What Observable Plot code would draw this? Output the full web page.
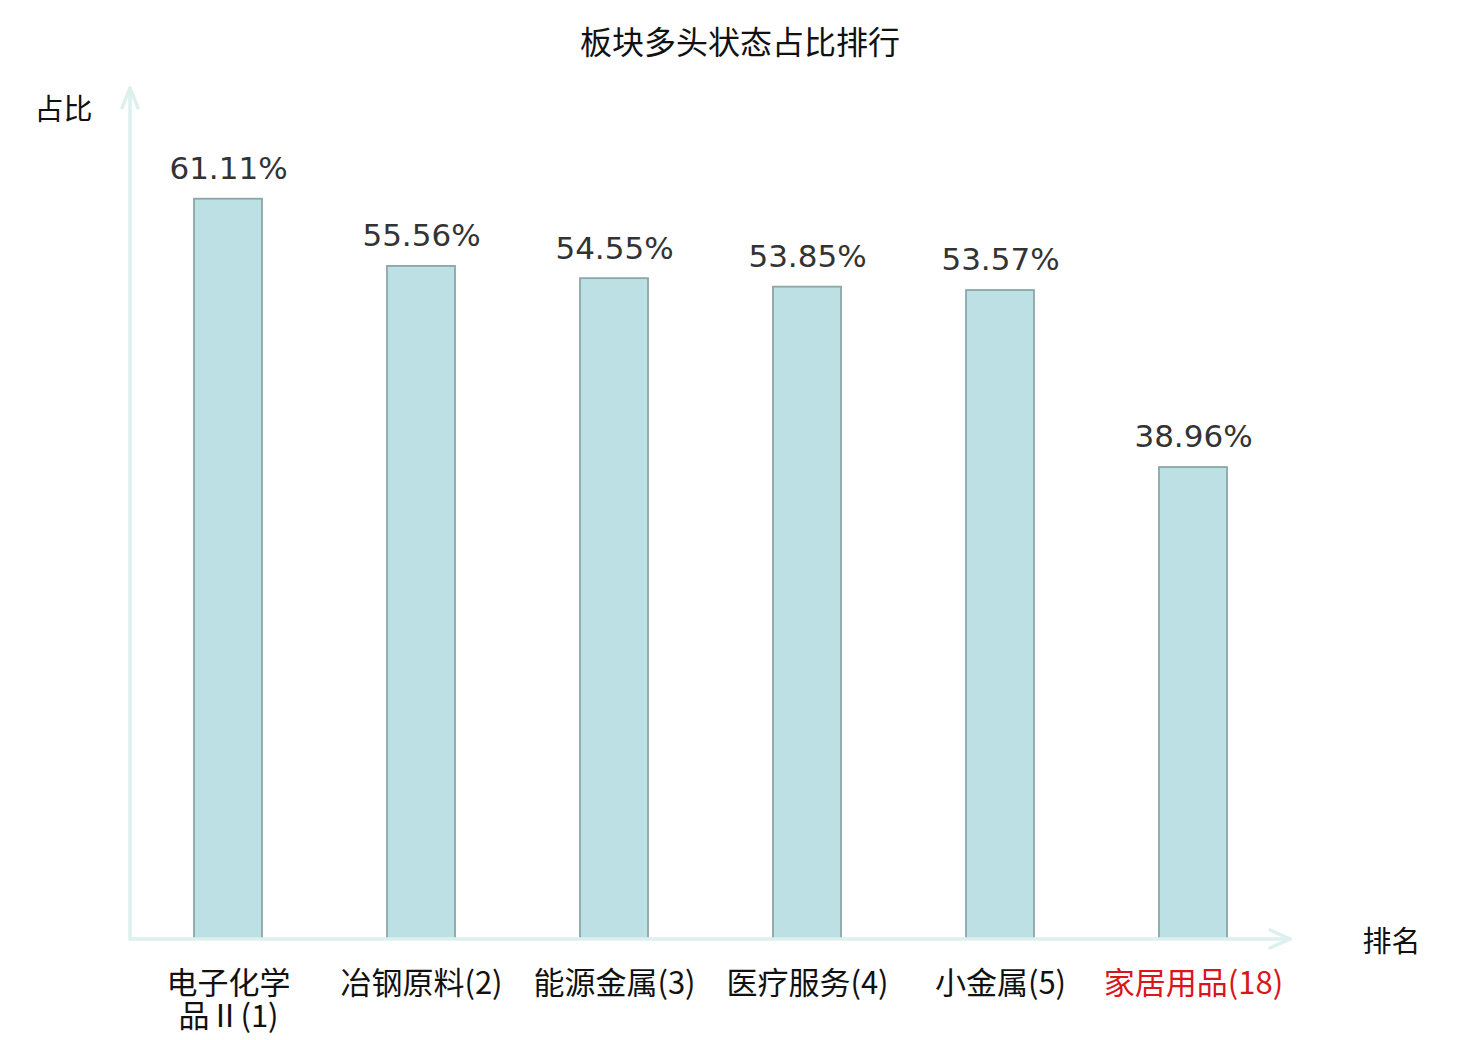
<!DOCTYPE html>
<html>
<head>
<meta charset="utf-8">
<script src="https://cdn.jsdelivr.net/npm/d3@7"></script>
<script src="https://cdn.jsdelivr.net/npm/@observablehq/plot@0.6"></script>
<style>
  html, body { margin: 0; padding: 0; background: #fff; }
  #title { height: 84px; line-height: 80px; text-align: center; font-family: "Noto Sans CJK SC", sans-serif; font-size: 32px; color: #111; width: 1480px; }
  #chart svg { display: block; }
</style>
</head>
<body>
<div id="title">板块多头状态占比排行</div>
<div id="chart"></div>
<script>
const categories = ["电子化学品Ⅱ", "冶钢原料", "能源金属", "医疗服务", "小金属", "家居用品"];
const ranks = [1, 2, 3, 4, 5, 18];
const values = [61.11, 55.56, 54.55, 53.85, 53.57, 38.96];
const tickLabels = ["电子化学\n品Ⅱ(1)", "冶钢原料(2)", "能源金属(3)", "医疗服务(4)", "小金属(5)", "家居用品(18)"];
const highlight = [false, false, false, false, false, true];
const yDomain = [0, 70];

const data = categories.map((c, i) => ({
  category: c, rank: ranks[i], value: values[i], tick: tickLabels[i], highlight: highlight[i]
}));

const axisColor = "#dcf1ee";

function axesWithArrows(index, scales, values, dim) {
  const g = d3.create("svg:g");
  const x0 = dim.marginLeft;
  const x1 = dim.width - dim.marginRight;
  const y0 = dim.height - dim.marginBottom;
  const yTop = dim.marginTop - 3;
  const common = s => s.attr("fill", "none").attr("stroke", axisColor).attr("stroke-width", 3.5)
    .attr("stroke-linecap", "round").attr("stroke-linejoin", "round");
  common(g.append("path").attr("d", `M${x0},${y0}L${x1},${y0}`));
  common(g.append("path").attr("d", `M${x1 - 20},${y0 - 9}L${x1},${y0}L${x1 - 20},${y0 + 9}`));
  common(g.append("path").attr("d", `M${x0},${y0}L${x0},${yTop}`));
  common(g.append("path").attr("d", `M${x0 - 8},${yTop + 20}L${x0},${yTop}L${x0 + 8},${yTop + 20}`));
  return g.node();
}

const chart = Plot.plot({
  width: 1480,
  height: 956,
  marginLeft: 130,
  marginRight: 190,
  marginTop: 7,
  marginBottom: 101,
  style: { background: "#fff", overflow: "visible" },
  x: { domain: categories, paddingInner: 0.65, paddingOuter: 0.325, axis: null },
  y: { domain: yDomain, axis: null },
  marks: [
    Plot.barY(data, { x: "category", y: "value", fill: "#bce0e3", stroke: "#8aa7a8", strokeWidth: 1.8 }),
    axesWithArrows,
    Plot.text(data, {
      x: "category", y: "value", text: d => d.value.toFixed(2) + "%",
      dy: -30, fontSize: 31, fill: "#333", fontFamily: "DejaVu Sans", lineAnchor: "middle"
    }),
    Plot.text(data, {
      x: "category", y: () => 0, text: "tick",
      lineAnchor: "top", dy: 31, lineHeight: 1.06, fontSize: 31,
      fontFamily: "'Noto Sans CJK SC'",
      fill: d => d.highlight ? "#d9161b" : "#111"
    }),
    Plot.text(["占比"], { frameAnchor: "top-left", textAnchor: "middle", dx: -67, dy: 19, fontSize: 29, fill: "#111", fontFamily: "Noto Sans CJK SC", lineAnchor: "middle" }),
    Plot.text(["排名"], { frameAnchor: "bottom-right", textAnchor: "middle", dx: 101, dy: 3, fontSize: 29, fill: "#111", fontFamily: "Noto Sans CJK SC", lineAnchor: "middle" })
  ]
});
document.getElementById("chart").appendChild(chart);
</script>
</body>
</html>
